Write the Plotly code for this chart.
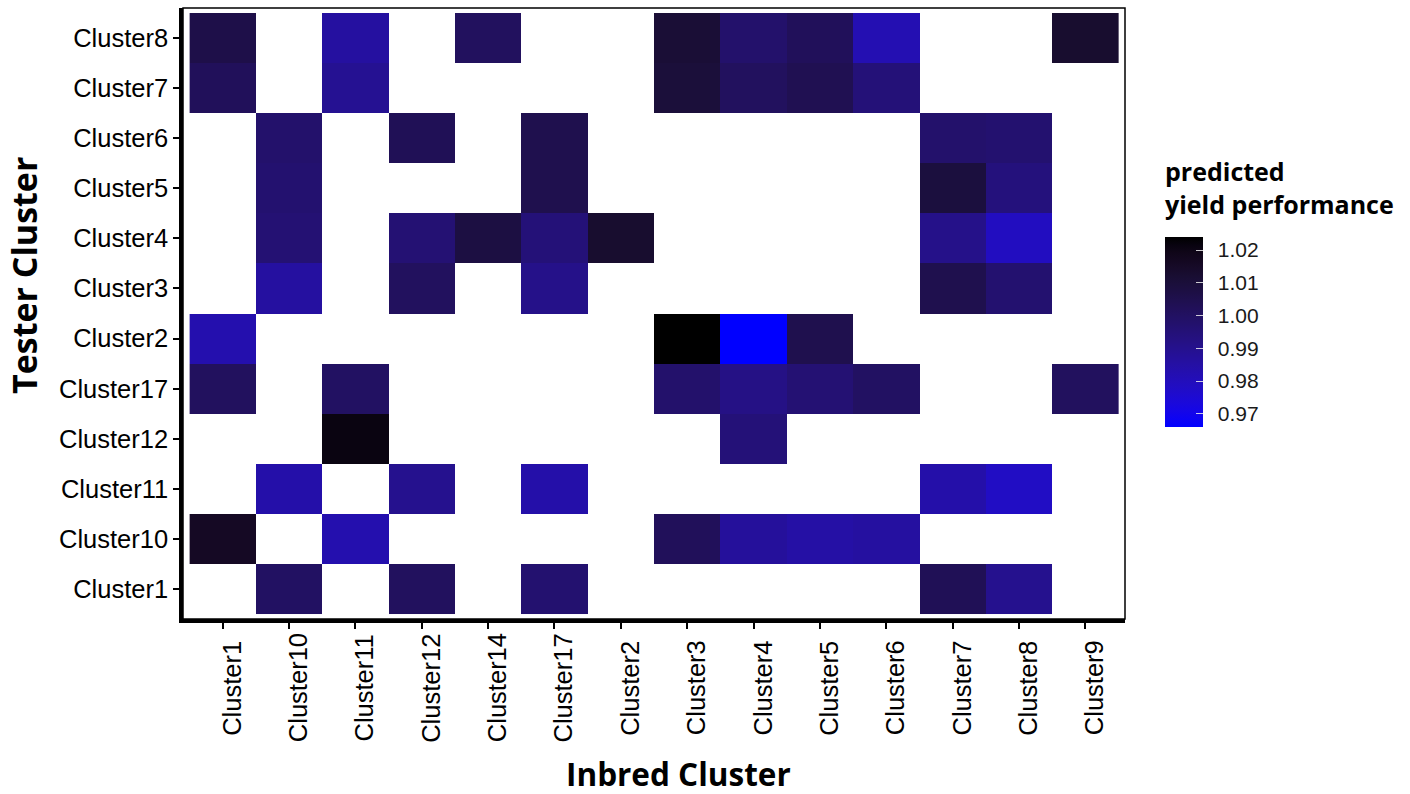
import plotly.graph_objects as go

# ---------------- data ----------------
inbred = ["Cluster1", "Cluster10", "Cluster11", "Cluster12", "Cluster14", "Cluster17",
          "Cluster2", "Cluster3", "Cluster4", "Cluster5", "Cluster6", "Cluster7",
          "Cluster8", "Cluster9"]
tester = ["Cluster1", "Cluster10", "Cluster11", "Cluster12", "Cluster17", "Cluster2",
          "Cluster3", "Cluster4", "Cluster5", "Cluster6", "Cluster7", "Cluster8"]

N = None
t_cluster1  = [N, 1.000, N, 1.001, N, 0.997, N, N, N, N, N, 1.003, 0.990, N]
t_cluster10 = [1.016, N, 0.983, N, N, N, N, 1.002, 0.987, 0.985, 0.986, N, N, N]
t_cluster11 = [N, 0.984, N, 0.990, N, 0.984, N, N, N, N, N, 0.984, 0.978, N]
t_cluster12 = [N, N, 1.021, N, N, N, N, N, 0.995, N, N, N, N, N]
t_cluster17 = [1.001, N, 1.000, N, N, N, N, 0.998, 0.992, 0.996, 1.000, N, N, 1.001]
t_cluster2  = [0.983, N, N, N, N, N, N, 1.024, 0.966, 1.005, N, N, N, N]
t_cluster3  = [N, 0.986, N, 1.001, N, 0.991, N, N, N, N, N, 1.005, 0.997, N]
t_cluster4  = [N, 0.996, N, 0.996, 1.008, 0.995, 1.013, N, N, N, N, 0.991, 0.979, N]
t_cluster5  = [N, 0.997, N, N, N, 1.005, N, N, N, N, N, 1.009, 0.994, N]
t_cluster6  = [N, 0.998, N, 1.003, N, 1.005, N, N, N, N, N, 0.998, 0.997, N]
t_cluster7  = [1.002, N, 0.989, N, N, N, N, 1.010, 1.001, 1.004, 0.995, N, N, N]
t_cluster8  = [1.006, N, 0.986, N, 1.001, N, N, 1.011, 0.998, 1.002, 0.982, N, N, 1.013]

rows = [t_cluster1, t_cluster10, t_cluster11, t_cluster12, t_cluster17, t_cluster2,
        t_cluster3, t_cluster4, t_cluster5, t_cluster6, t_cluster7, t_cluster8]

cbar_ticks = [0.97, 0.98, 0.99, 1.00, 1.01, 1.02]

# ------------- colour scale: blue -> black interpolated in CIELAB -------------
WHITE = (0.95047, 1.0, 1.08883)


def _lin(c):
    c = c / 255.0
    return c / 12.92 if c <= 0.04045 else ((c + 0.055) / 1.055) ** 2.4


def _gam(c):
    c = max(0.0, min(1.0, c))
    v = 12.92 * c if c <= 0.0031308 else 1.055 * c ** (1 / 2.4) - 0.055
    return int(round(v * 255))


def _f(t):
    d = 6 / 29
    return t ** (1 / 3) if t > d ** 3 else t / (3 * d * d) + 4 / 29


def _finv(t):
    d = 6 / 29
    return t ** 3 if t > d else 3 * d * d * (t - 4 / 29)


def rgb2lab(rgb):
    r, g, b = (_lin(v) for v in rgb)
    x = 0.4124 * r + 0.3576 * g + 0.1805 * b
    y = 0.2126 * r + 0.7152 * g + 0.0722 * b
    z = 0.0193 * r + 0.1192 * g + 0.9505 * b
    fx, fy, fz = _f(x / WHITE[0]), _f(y / WHITE[1]), _f(z / WHITE[2])
    return (116 * fy - 16, 500 * (fx - fy), 200 * (fy - fz))


def lab2rgb(lab):
    L, a, b = lab
    fy = (L + 16) / 116
    fx = fy + a / 500
    fz = fy - b / 200
    x, y, z = WHITE[0] * _finv(fx), WHITE[1] * _finv(fy), WHITE[2] * _finv(fz)
    r = 3.2406 * x - 1.5372 * y - 0.4986 * z
    g = -0.9689 * x + 1.8758 * y + 0.0415 * z
    bb = 0.0557 * x - 0.2040 * y + 1.0570 * z
    return (_gam(r), _gam(g), _gam(bb))


lab_lo = rgb2lab((0, 0, 255))
lab_hi = rgb2lab((0, 0, 0))
nstops = 24
colorscale = []
for i in range(nstops + 1):
    t = i / nstops
    lab = tuple(lo + (hi - lo) * t for lo, hi in zip(lab_lo, lab_hi))
    r, g, b = lab2rgb(lab)
    colorscale.append([t, f"rgb({r},{g},{b})"])

# ---------------- figure ----------------
W, H = 1410, 794
L_M, R_M, T_M, B_M = 183, 285, 8, 175
TICKFONT = "Liberation Sans, Arial, sans-serif"
TITLEFONT = "Open Sans, Lato, sans-serif"

fig = go.Figure()
fig.add_trace(go.Heatmap(
    z=rows,
    x=list(range(len(inbred))),
    y=list(range(len(tester))),
    colorscale=colorscale,
    hoverongaps=False,
    colorbar=dict(
        x=(1165 - L_M) / (W - L_M - R_M), xanchor="left", xpad=0,
        y=(H - B_M - 332) / (H - B_M - T_M), yanchor="middle", ypad=0,
        thickness=38, thicknessmode="pixels",
        len=190, lenmode="pixels",
        outlinewidth=0,
        tickvals=cbar_ticks,
        ticktext=["\u00a0\u2009" + f"{v:.2f}" for v in cbar_ticks],
        ticks="inside", ticklen=7, tickcolor="rgba(235,235,235,0.85)", tickwidth=1,
        tickfont=dict(family=TICKFONT, size=21, color="#1a1a1a"),
    ),
))

annotations = []
plot_h = H - B_M - T_M
for i, name in enumerate(inbred):
    annotations.append(dict(
        x=i, xref="x", y=(H - B_M - 688) / plot_h, yref="paper",
        text=name, textangle=-90, showarrow=False,
        xanchor="center", yanchor="middle", xshift=9,
        font=dict(family=TICKFONT, size=25.5, color="black"),
    ))

plot_w = W - L_M - R_M
annotations.append(dict(
    x=(678 - L_M) / plot_w, xref="paper", y=(H - B_M - 773) / plot_h, yref="paper",
    text="<b>Inbred Cluster</b>", showarrow=False, xanchor="center", yanchor="middle",
    font=dict(family=TITLEFONT, size=31.5, color="black"),
))
annotations.append(dict(
    x=(24 - L_M) / plot_w, xref="paper", y=(H - B_M - 276) / plot_h, yref="paper",
    text="<b>Tester Cluster</b>", textangle=-90, showarrow=False,
    xanchor="center", yanchor="middle",
    font=dict(family=TITLEFONT, size=34, color="black"),
))
annotations.append(dict(
    x=(1163 - L_M) / plot_w, xref="paper", y=(H - B_M - 152) / plot_h, yref="paper",
    text="<b>predicted</b><br><b>yield performance</b>", showarrow=False,
    xanchor="left", yanchor="top", align="left",
    font=dict(family=TITLEFONT, size=25, color="black"),
))

fig.update_layout(
    width=W, height=H,
    margin=dict(l=L_M, r=R_M, t=T_M, b=B_M, pad=0),
    paper_bgcolor="white", plot_bgcolor="white",
    annotations=annotations,
    shapes=[dict(type="rect", xref="paper", yref="paper", x0=0, x1=1, y0=0, y1=1,
                 line=dict(color="black", width=1.5), layer="above")],
    xaxis=dict(
        range=[-0.6, len(inbred) - 0.4],
        tickvals=list(range(len(inbred))), showticklabels=False,
        ticks="outside", ticklen=6, tickwidth=2, tickcolor="black",
        showline=True, linecolor="black", linewidth=3.5,
        showgrid=False, zeroline=False, fixedrange=True,
    ),
    yaxis=dict(
        range=[-0.6, len(tester) - 0.4],
        tickvals=list(range(len(tester))), ticktext=tester,
        tickfont=dict(family=TICKFONT, size=25.5, color="black"),
        ticks="outside", ticklen=6, tickwidth=2, tickcolor="black",
        showline=True, linecolor="black", linewidth=3.5,
        showgrid=False, zeroline=False, fixedrange=True,
    ),
)

fig.write_html("out.html")
